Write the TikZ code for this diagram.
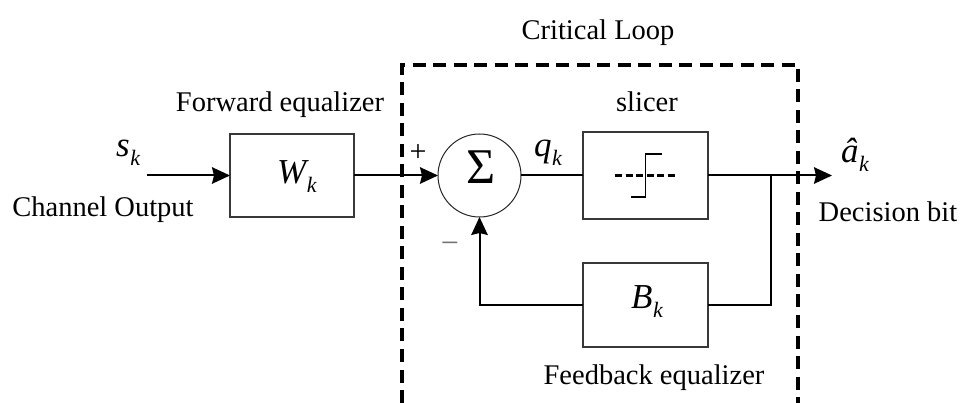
\documentclass[tikz,border=0pt]{standalone}
\usepackage{fontspec}
\setmainfont{Liberation Serif}
\usetikzlibrary{arrows.meta}

% italic symbol with an italic subscript
\newcommand{\symsub}[2]{{\fontsize{35}{35}\selectfont\itshape #1}\kern0.5pt{\fontsize{22}{22}\selectfont\itshape\raisebox{-9pt}{#2}}}

\tikzset{
  block/.style={draw=black!78, line width=1.2pt, rectangle, inner sep=0pt, outer sep=0pt},
  sumnode/.style={draw=black!85, line width=1pt, circle, inner sep=0pt, outer sep=0pt, minimum size=83pt},
  wire/.style={line width=2pt, black},
  arr/.style={wire, -{Stealth[length=18pt, width=16.5pt, inset=2pt]}},
  dashbox/.style={line width=3.4pt, dash pattern=on 13pt off 7.5pt},
  label/.style={font=\fontsize{28.5}{28.5}\selectfont, inner sep=0pt, anchor=base},
  mathlbl/.style={inner sep=0pt, anchor=base west},
}

\begin{document}
\begin{tikzpicture}[x=1pt, y=-1pt]
  \useasboundingbox (0,0) rectangle (964,403);

  % critical loop boundary (open at the bottom)
  \draw[dashbox] (402,403) -- (402,65) -- (798,65) -- (798,403);
  \node[label] (crit) at (598,40) {Critical Loop};

  % blocks
  \node[block, minimum width=124pt, minimum height=83pt] (W) at (292,175.5) {};
  \node[sumnode] (sum) at (479.5,175.5) {};
  \node[block, minimum width=125pt, minimum height=87pt] (slicer) at (645.5,175.5) {};
  \node[block, minimum width=125pt, minimum height=84pt] (B) at (645.5,305) {};

  % sigma inside the summing junction
  \node[inner sep=0pt, font=\fontsize{50}{50}\selectfont] (sigma) at (481,167.5) {Σ};

  % slicer characteristic
  \draw[line width=3pt, dash pattern=on 7pt off 3.5pt] (615,175.5) -- (676,175.5);
  \draw[line width=1.5pt] (631,197) -- (645.7,197) -- (645.7,154) -- (662,154);

  % symbols inside blocks
  \node[mathlbl] (Wsym) at (277,184) {\symsub{W}{k}};
  \node[mathlbl] (Bsym) at (631,309) {\symsub{B}{k}};

  % signal labels
  \node[mathlbl] (sk) at (116,157) {\symsub{s}{k}};
  \node[mathlbl] (qk) at (534,157) {\symsub{q}{k}};
  \node[mathlbl] (ak) at (841,163) {\symsub{\^{a}}{k}};

  % text labels
  \node[label] (fwd) at (280,112) {Forward equalizer};
  \node[label] (slc) at (647,112) {slicer};
  \node[label] (chan) at (103,217) {Channel Output};
  \node[label] (dec) at (888,222) {Decision bit};
  \node[label] (fbk) at (654,384) {Feedback equalizer};
  \node[inner sep=0pt, font=\fontsize{30}{30}\selectfont] (plus) at (418,153) {+};
  \node[inner sep=0pt, font=\fontsize{32}{32}\selectfont, text=black!55] (minus) at (450,248) {−};

  % connectors
  \coordinate (in) at (147,175.5);
  \coordinate (out) at (832,175.5);
  \coordinate (br) at (770.5,175.5);
  \draw[arr] (in) -- (W.west);
  \draw[arr] (W.east) -- (sum.west);
  \draw[wire] (sum.east) -- (slicer.west);
  \draw[arr] (slicer.east) -- (out);
  \draw[wire] (br) |- (B.east);
  \draw[arr] (B.west) -| (sum.south);
\end{tikzpicture}
\end{document}
